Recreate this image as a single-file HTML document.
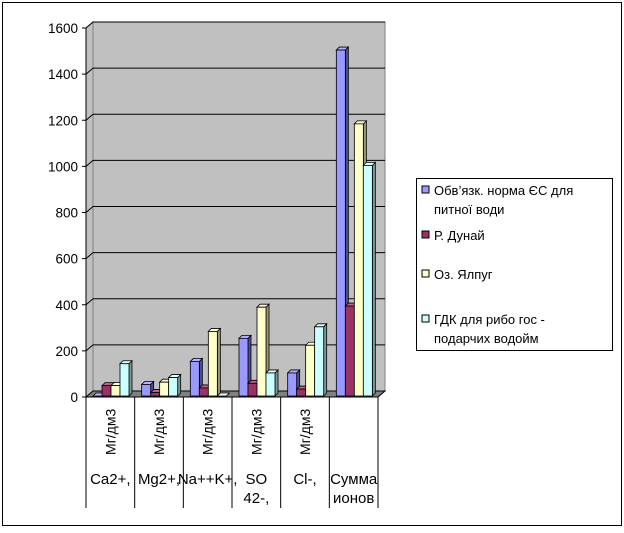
<!DOCTYPE html>
<html><head><meta charset="utf-8">
<style>
body{margin:0;background:#fff;width:624px;height:528px;overflow:hidden}
svg{font-family:"Liberation Sans",Arial,sans-serif}
</style></head><body>
<svg id="c" width="624" height="528">
<rect x="2.5" y="2.5" width="619" height="523" fill="#fff" stroke="#000"/>
<g id="wall"></g><g id="bars"></g><g id="axis"></g><g id="table"></g>
<g>
<rect x="416.5" y="178.5" width="196" height="172" fill="#fff" stroke="#000"/>
<rect x="422" y="186" width="7" height="7" fill="#9999ff" stroke="#000"/>
<text x="434" y="195" font-size="13">Обв’язк. норма  ЄС для</text>
<text x="434" y="214" font-size="13">питної води</text>
<rect x="422" y="231" width="7" height="7" fill="#993366" stroke="#000"/>
<text x="434" y="240" font-size="13">Р. Дунай</text>
<rect x="422" y="270" width="7" height="7" fill="#ffffcc" stroke="#000"/>
<text x="434" y="279" font-size="13">Оз. Ялпуг</text>
<rect x="422" y="315" width="7" height="7" fill="#ccffff" stroke="#000"/>
<text x="434" y="324" font-size="13">ГДК для рибо гос -</text>
<text x="434" y="343" font-size="13">подарчих водойм</text>
</g>
</svg>
<script>
const categories=["Ca2+,","Mg2+,","Na++K+,","SO 42-,","Cl-,","Сумма ионов"];
const euNorm=[0,50,150,250,100,1500];
const danube=[45,15,35,55,30,390];
const yalpug=[45,60,280,385,220,1180];
const gdk=[140,80,0,100,300,1000];
const ticks=[0,200,400,600,800,1000,1200,1400,1600];
const series=[euNorm,danube,yalpug,gdk];
const seriesNames=["eu-norm","danube","yalpug","gdk"];
const NS="http://www.w3.org/2000/svg";
const X0=86,X1=378,Y0=397,DX=7,DY=6,K=(397-28)/1600;
const fronts=["#9999ff","#993366","#ffffcc","#ccffff"];
const sides=["#4d4d99","#4d1a33","#99997a","#7a9999"];
const tops=["#b3b3ff","#b36685","#ffffe0","#e0ffff"];
function y(v){return Y0-v*K;}
function mk(tag,attrs,parent){const e=document.createElementNS(NS,tag);for(const k in attrs)e.setAttribute(k,attrs[k]);parent.appendChild(e);return e;}
const wall=document.getElementById('wall');
let p=mk('polygon',{points:`${X0+DX},${y(1600)-DY} ${X1+DX},${y(1600)-DY} ${X1+DX},${Y0-DY} ${X0+DX},${Y0-DY}`,fill:'#c0c0c0',stroke:'#808080'},wall);

p=mk('polygon',{points:`${X0},${y(1600)} ${X0+DX},${y(1600)-DY} ${X0+DX},${Y0-DY} ${X0},${Y0}`,fill:'#c0c0c0',stroke:'#808080'},wall);

p=mk('polygon',{points:`${X0},${Y0} ${X0+DX},${Y0-DY} ${X1+DX},${Y0-DY} ${X1},${Y0}`,fill:'#808080',stroke:'#000'},wall);

const axis=document.getElementById('axis');
ticks.forEach(t=>{
  if(t>0){const g=mk('polyline',{points:`${X0},${y(t)} ${X0+DX},${y(t)-DY} ${X1+DX},${y(t)-DY}`,fill:'none',stroke:'#000'},wall);
  }
  mk('line',{x1:X0-4,y1:y(t),x2:X0,y2:y(t),stroke:'#000'},axis);
  const tx=mk('text',{x:X0-8,y:y(t)+5,'font-size':13.5,'text-anchor':'end'},axis);tx.textContent=t;
  
});
mk('line',{x1:X0,y1:y(1600),x2:X0,y2:Y0,stroke:'#000'},axis);
const bars=document.getElementById('bars');
const cw=(X1-X0)/categories.length,bw=9;
categories.forEach((c,i)=>{
  series.forEach((s,j)=>{
    const v=s[i],x=X0+i*cw+7+j*bw,yt=y(v)-1,yb=Y0-1,d=3;
    const g=mk('g',{},bars);
    
    
    mk('polygon',{points:`${x+bw},${yt} ${x+bw+d},${yt-d} ${x+bw+d},${yb-d} ${x+bw},${yb}`,fill:sides[j],stroke:'#000','stroke-width':0.8},g);
    mk('polygon',{points:`${x},${yt} ${x+d},${yt-d} ${x+bw+d},${yt-d} ${x+bw},${yt}`,fill:tops[j],stroke:'#000','stroke-width':0.8},g);
    mk('rect',{x:x,y:yt,width:bw,height:Math.max(yb-yt,0),fill:fronts[j],stroke:'#000','stroke-width':0.8},g);
  });
});
const table=document.getElementById('table');
for(let i=0;i<=categories.length;i++){const xx=X0+i*cw;const l=mk('line',{x1:xx,y1:Y0,x2:xx,y2:508,stroke:'#000'},table);}
categories.forEach((c,i)=>{
  const cx=X0+i*cw+cw/2;
  if(i<5){const t=mk('text',{transform:`translate(${cx+5},455) rotate(-90)`,'font-size':14},table);t.textContent='Мг/дм3';
  }
  const parts=c.split(' ');
  parts.forEach((w,k)=>{const t=mk('text',{x:cx,y:484+k*19,'font-size':15,'text-anchor':'middle'},table);t.textContent=w;
  });
});
</script>
</body></html>
